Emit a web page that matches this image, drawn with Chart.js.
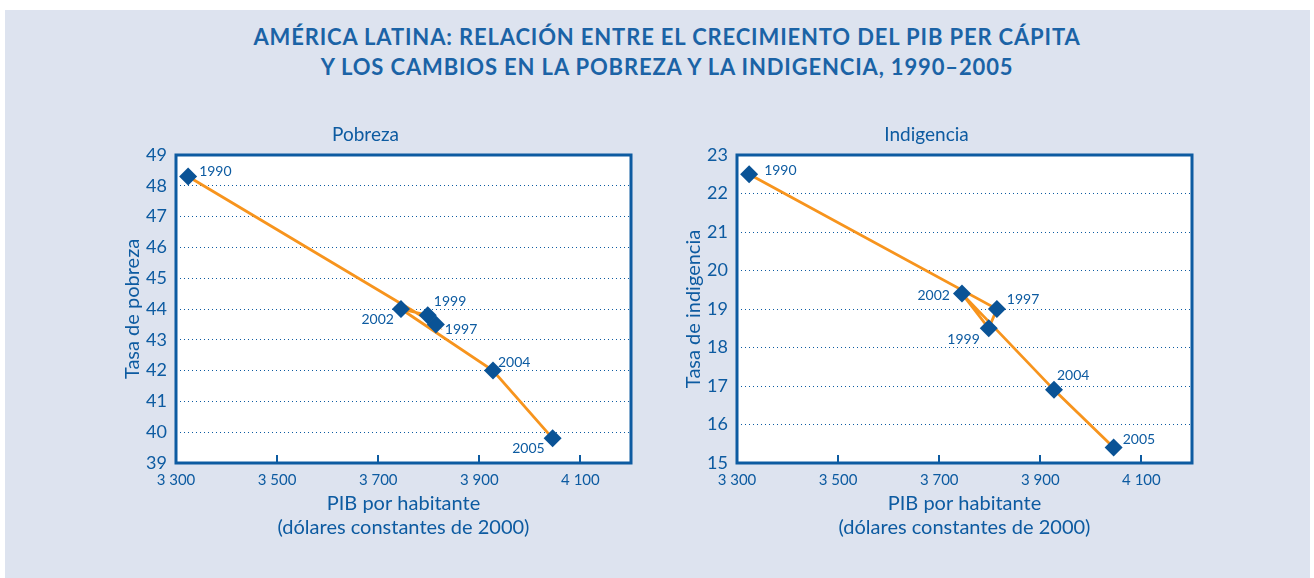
<!DOCTYPE html>
<html>
<head>
<meta charset="utf-8">
<script src="https://cdn.jsdelivr.net/npm/chart.js@4"></script>
<style>
  body { margin: 0; background: #ffffff; font-family: Lato, sans-serif; }
  #panel { position: absolute; left: 5px; top: 10px; width: 1305px; height: 568px; background: #dde3ef; }
  #title { position: absolute; left: 0; top: 22px; width: 1334px; text-align: center; color: #1b63a6;
           font-weight: bold; font-size: 22px; line-height: 30px; letter-spacing: 0.85px; }
  canvas { position: absolute; }
  #c1 { left: 100px; top: 115px; }
  #c2 { left: 661px; top: 115px; }
</style>
</head>
<body>
<div id="panel"></div>
<div id="title">AMÉRICA LATINA: RELACIÓN ENTRE EL CRECIMIENTO DEL PIB PER CÁPITA<br>Y LOS CAMBIOS EN LA POBREZA Y LA INDIGENCIA, 1990–2005</div>
<canvas id="c1" width="560" height="430"></canvas>
<canvas id="c2" width="560" height="430"></canvas>
<script>
// datos (orden cronológico)
const years = ["1990", "1997", "1999", "2002", "2004", "2005"];
const pibPerCapita = [3324, 3814, 3798, 3745, 3927, 4045];
const tasaPobreza = [48.3, 43.5, 43.8, 44.0, 42.0, 39.8];
const tasaIndigencia = [22.5, 19.0, 18.5, 19.4, 16.9, 15.4];
const xTicks = [3300, 3500, 3700, 3900, 4100];

// posicion de las etiquetas de año [dx, dy, align]
const pobrezaLabelPos = [[11, -5, "left"], [9, 5, "left"], [6, -14, "left"], [-7, 10, "right"], [5, -8, "left"], [-8, 10, "right"]];
const indigenciaLabelPos = [[15, -4, "left"], [10, -10, "left"], [-9, 11, "right"], [-12, 2, "right"], [3, -14, "left"], [9, -8, "left"]];

const blue = "#0d5ba1";
const markerBlue = "#0a5396";
const orange = "#f7941d";

const frame = {
  id: "frame",
  beforeDraw(chart) {
    const a = chart.chartArea;
    const ctx = chart.ctx;
    ctx.save();
    ctx.fillStyle = "#ffffff";
    ctx.fillRect(a.left, a.top, a.right - a.left, a.bottom - a.top);
    ctx.restore();
  },
  afterDatasetsDraw(chart) {
    const a = chart.chartArea;
    const ctx = chart.ctx;
    const xs = chart.scales.x;
    ctx.save();
    ctx.strokeStyle = blue;
    ctx.lineWidth = 3;
    ctx.strokeRect(a.left, a.top, a.right - a.left, a.bottom - a.top);
    ctx.lineWidth = 2;
    xTicks.slice(1).forEach(v => {
      const px = Math.round(xs.getPixelForValue(v));
      ctx.beginPath();
      ctx.moveTo(px, a.bottom);
      ctx.lineTo(px, a.bottom - 8);
      ctx.stroke();
    });
    // etiquetas de año
    const pos = chart.options.plugins.frame.labelPos;
    const meta = chart.getDatasetMeta(0);
    ctx.fillStyle = blue;
    ctx.font = "14px Lato";
    ctx.textBaseline = "middle";
    meta.data.forEach((pt, i) => {
      const [dx, dy, align] = pos[i];
      ctx.textAlign = align;
      ctx.fillText(years[i], pt.x + dx, pt.y + dy);
    });
    ctx.restore();
  }
};

function makeChart(id, title, yTitle, values, yMin, yMax, labelPos) {
  const points = pibPerCapita.map((x, i) => ({ x: x, y: values[i] }));
  return new Chart(document.getElementById(id), {
    type: "scatter",
    data: {
      datasets: [{
        data: points,
        showLine: true,
        borderColor: orange,
        borderWidth: 2.8,
        pointStyle: "rectRot",
        pointRadius: 9,
        pointBackgroundColor: markerBlue,
        pointBorderColor: markerBlue,
        pointBorderWidth: 0
      }]
    },
    options: {
      responsive: false,
      animation: false,
      layout: { padding: { left: 0, right: 29, top: 0, bottom: 0 } },
      plugins: {
        legend: { display: false },
        tooltip: { enabled: false },
        title: { display: true, text: title, color: blue, font: { family: "Lato", size: 19, weight: "normal" },
                 padding: { top: 8, bottom: 9.2 } },
        frame: { labelPos: labelPos }
      },
      scales: {
        x: {
          type: "linear", min: 3300, max: 4200,
          afterBuildTicks: s => { s.ticks = xTicks.map(v => ({ value: v })); },
          afterFit: s => { s.height = 82; },
          grid: { display: false, drawTicks: false },
          border: { display: false },
          ticks: { color: blue, font: { family: "Lato", size: 15 }, padding: 8,
                   callback: v => String(v).replace(/\B(?=(\d{3})+(?!\d))/g, " ") },
          title: { display: true, text: ["PIB por habitante", "(dólares constantes de 2000)"], color: blue,
                   font: { family: "Lato", size: 20, lineHeight: 1.2 }, padding: { top: 0, bottom: 5 } }
        },
        y: {
          min: yMin, max: yMax,
          afterFit: s => { s.width = 76; },
          grid: { drawTicks: false, color: blue, lineWidth: 1 },
          border: { display: false, dash: [1, 3] },
          ticks: { stepSize: 1, color: blue, font: { family: "Lato", size: 18 }, padding: 9 },
          title: { display: true, text: yTitle, color: blue, font: { family: "Lato", size: 20 },
                   padding: { top: 21, bottom: 0 } }
        }
      }
    },
    plugins: [frame]
  });
}

makeChart("c1", "Pobreza", "Tasa de pobreza", tasaPobreza, 39, 49, pobrezaLabelPos);
makeChart("c2", "Indigencia", "Tasa de indigencia", tasaIndigencia, 15, 23, indigenciaLabelPos);
</script>
</body>
</html>
